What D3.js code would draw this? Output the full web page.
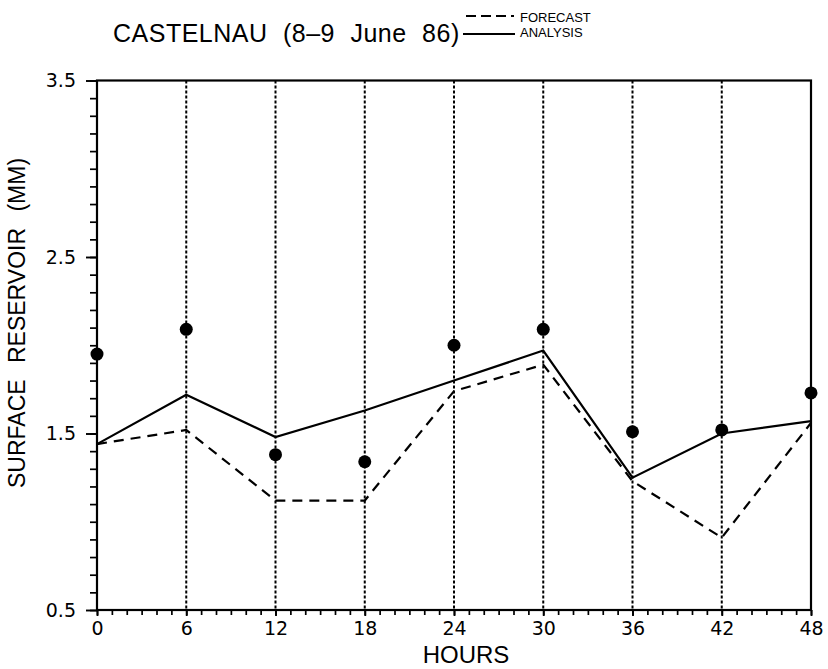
<!DOCTYPE html>
<html>
<head>
<meta charset="utf-8">
<script src="https://cdn.jsdelivr.net/npm/d3@7/dist/d3.min.js"></script>
<style>
  html, body { margin: 0; padding: 0; background: #fff; }
  svg { display: block; }
  .tick text { font-family: "DejaVu Sans", sans-serif; font-size: 19px; fill: #000; }
</style>
</head>
<body>
<svg id="chart" width="828" height="669"></svg>
<script>
// ---- data ----
const hours = [0, 6, 12, 18, 24, 30, 36, 42, 48];
const analysis = [1.44, 1.72, 1.48, 1.63, 1.80, 1.97, 1.25, 1.50, 1.57];
const forecast = [1.44, 1.52, 1.12, 1.12, 1.74, 1.89, 1.23, 0.91, 1.56];
const observed = [1.95, 2.09, 1.38, 1.34, 2.00, 2.09, 1.51, 1.52, 1.73];
const yMajorTicks = [0.5, 1.5, 2.5, 3.5];
const xMajorTicks = [0, 6, 12, 18, 24, 30, 36, 42, 48];
const gridHours = [6, 12, 18, 24, 30, 36, 42];
const titleText = "CASTELNAU (8\u20139 June 86)";
const yLabel = "SURFACE RESERVOIR (MM)";
const xLabel = "HOURS";
const legendLabels = ["FORECAST", "ANALYSIS"];

// ---- layout ----
const svg = d3.select("#chart");
const x = d3.scaleLinear().domain([0, 48]).range([97, 811]);
const y = d3.scaleLinear().domain([0.5, 3.5]).range([610, 80.5]);

svg.append("rect").attr("width", 828).attr("height", 669).attr("fill", "#fff");

// minor y ticks
svg.append("g").attr("transform", `translate(${x(0)},0)`)
  .call(d3.axisLeft(y).tickValues(d3.range(5, 36).map(d => d / 10)).tickSize(7).tickFormat(""))
  .call(g => g.select(".domain").remove())
  .call(g => g.selectAll("line").attr("stroke", "#000").attr("stroke-width", 1.7));
// major y ticks
svg.append("g").attr("transform", `translate(${x(0)},0)`)
  .call(d3.axisLeft(y).tickValues(yMajorTicks).tickSize(11).tickPadding(10).tickFormat(d3.format(".1f")))
  .call(g => g.select(".domain").remove())
  .call(g => g.selectAll("line").attr("stroke", "#000").attr("stroke-width", 1.9));
// minor x ticks
svg.append("g").attr("transform", `translate(0,${y(0.5)})`)
  .call(d3.axisBottom(x).tickValues(d3.range(0, 49)).tickSize(5).tickFormat(""))
  .call(g => g.select(".domain").remove())
  .call(g => g.selectAll("line").attr("stroke", "#000").attr("stroke-width", 1.7));
// major x ticks
svg.append("g").attr("transform", `translate(0,${y(0.5)})`)
  .call(d3.axisBottom(x).tickValues(xMajorTicks).tickSize(6).tickPadding(6).tickFormat(d3.format("d")))
  .call(g => g.select(".domain").remove())
  .call(g => g.selectAll("line").attr("stroke", "#000").attr("stroke-width", 1.9));

// vertical dotted grid lines
svg.append("g").selectAll("line").data(gridHours).join("line")
  .attr("x1", d => x(d)).attr("x2", d => x(d))
  .attr("y1", y(3.5)).attr("y2", y(0.5))
  .attr("stroke", "#000").attr("stroke-width", 2).attr("stroke-dasharray", "3,2");

// frame
svg.append("rect")
  .attr("x", x(0)).attr("y", y(3.5))
  .attr("width", x(48) - x(0)).attr("height", y(0.5) - y(3.5))
  .attr("fill", "none").attr("stroke", "#000").attr("stroke-width", 2.2);

const line = d3.line().x((d, i) => x(hours[i])).y(d => y(d));

svg.append("path").datum(forecast).attr("d", line)
  .attr("fill", "none").attr("stroke", "#000").attr("stroke-width", 2.2)
  .attr("stroke-dasharray", "10,7");
svg.append("path").datum(analysis).attr("d", line)
  .attr("fill", "none").attr("stroke", "#000").attr("stroke-width", 2.2);

svg.append("g").selectAll("circle").data(observed).join("circle")
  .attr("cx", (d, i) => x(hours[i])).attr("cy", d => y(d)).attr("r", 6.5)
  .attr("fill", "#000");

// title
svg.append("text").attr("x", 113).attr("y", 42)
  .attr("font-family", "'Liberation Sans Narrow', 'Arial Narrow', 'Liberation Sans', sans-serif")
  .attr("font-size", 25).attr("letter-spacing", 0.5).attr("word-spacing", 8)
  .text(titleText);

// legend
svg.append("line").attr("x1", 466).attr("x2", 514).attr("y1", 16).attr("y2", 16)
  .attr("stroke", "#000").attr("stroke-width", 2).attr("stroke-dasharray", "10,5");
svg.append("line").attr("x1", 463).attr("x2", 515).attr("y1", 34).attr("y2", 34)
  .attr("stroke", "#000").attr("stroke-width", 2);
svg.append("g").selectAll("text").data(legendLabels).join("text")
  .attr("x", 520).attr("y", (d, i) => i === 0 ? 21.5 : 36.5)
  .attr("font-family", "'Liberation Sans Narrow', 'Arial Narrow', 'Liberation Sans', sans-serif")
  .attr("font-size", 13)
  .text(d => d);

// axis labels
svg.append("text").attr("x", 466).attr("y", 662.5).attr("text-anchor", "middle")
  .attr("font-family", "'Liberation Sans', Arial, sans-serif").attr("font-size", 24)
  .text(xLabel);
svg.append("text").attr("transform", "translate(25,323) rotate(-90)").attr("text-anchor", "middle")
  .attr("font-family", "'Liberation Sans Narrow', 'Arial Narrow', 'Liberation Sans', sans-serif")
  .attr("font-size", 23).attr("word-spacing", 10)
  .text(yLabel);
</script>
</body>
</html>
